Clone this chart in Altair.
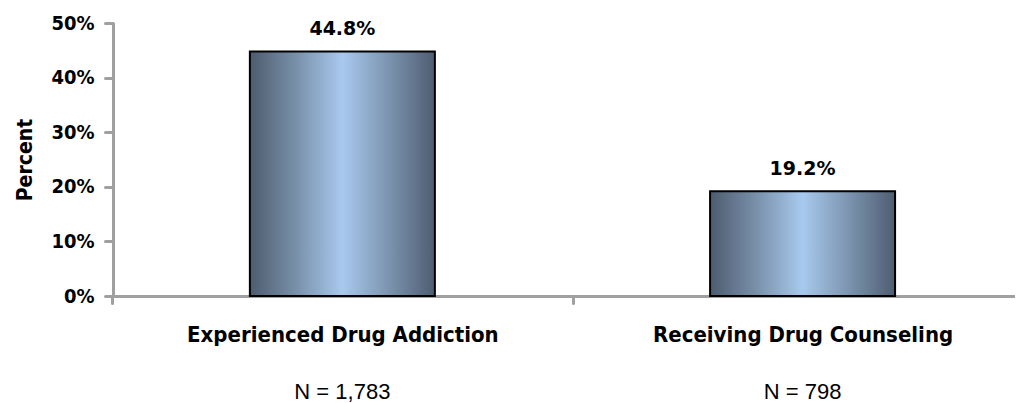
import altair as alt
import pandas as pd

categories = ["Experienced Drug Addiction", "Receiving Drug Counseling"]
percents = [44.8, 19.2]
sample_sizes = ["N = 1,783", "N = 798"]
y_ticks = [0, 10, 20, 30, 40, 50]

df = pd.DataFrame({"category": categories, "percent": percents, "n": sample_sizes})

W = 902
H = 273
AXIS_GRAY = "#a0a0a0"
BOLD_FONT = "DejaVu Sans Condensed"

gradient = alt.Gradient(
    gradient="linear",
    x1=0, x2=1, y1=0, y2=0,
    stops=[
        alt.GradientStop(color="#4d5c6f", offset=0.0),
        alt.GradientStop(color="#7990aa", offset=0.25),
        alt.GradientStop(color="#a8c9ee", offset=0.5),
        alt.GradientStop(color="#7c94af", offset=0.75),
        alt.GradientStop(color="#4e5d71", offset=1.0),
    ],
)

x_enc = alt.X(
    "category:N",
    sort=categories,
    title=None,
    scale=alt.Scale(paddingInner=0.598, paddingOuter=0.279, align=0.533),
    axis=alt.Axis(
        labelAngle=0,
        labelFont=BOLD_FONT,
        labelFontSize=22,
        labelFontWeight="bold",
        labelColor="black",
        labelLimit=0,
        labelPadding=21,
        tickOffset=-230,
        labelOffset=230,
        tickSize=7,
        tickWidth=3,
        tickColor=AXIS_GRAY,
        tickCap="round",
        domainColor=AXIS_GRAY,
        domainWidth=3,
    ),
)

y_enc = alt.Y(
    "percent:Q",
    scale=alt.Scale(domain=[0, 50], nice=False),
    axis=alt.Axis(
        values=y_ticks,
        labelExpr="datum.value + '%'",
        title="Percent",
        titleFont=BOLD_FONT,
        titleFontSize=21,
        titleFontWeight="bold",
        titleColor="black",
        titlePadding=15,
        labelFont=BOLD_FONT,
        labelFontSize=20,
        labelFontWeight="bold",
        labelColor="black",
        labelPadding=11,
        tickSize=8,
        tickWidth=3,
        tickColor=AXIS_GRAY,
        tickCap="round",
        domainColor=AXIS_GRAY,
        domainWidth=3,
        grid=False,
    ),
)

base = alt.Chart(df)

bars = base.mark_bar(fill=gradient, stroke="black", strokeWidth=2).encode(x=x_enc, y=y_enc)

bar_labels = base.transform_calculate(
    label="format(datum.percent, '.1f') + '%'"
).mark_text(
    font="DejaVu Sans", fontSize=19, fontWeight="bold", color="black", dy=-16, baseline="alphabetic"
).encode(x=alt.X("category:N", sort=categories), y="percent:Q", text="label:N")

n_labels = base.mark_text(
    font="Liberation Sans", fontSize=22, color="black", baseline="alphabetic"
).encode(x=alt.X("category:N", sort=categories), y=alt.value(H + 103), text="n:N")

chart = alt.layer(bars, bar_labels, n_labels).properties(
    width=W,
    height=H,
    autosize=alt.AutoSizeParams(type="none"),
    padding={"left": 105, "top": 15, "right": 0, "bottom": 107},
).configure_view(stroke=None)

chart.save("out.html", embed_options={"renderer": "svg", "actions": False})
